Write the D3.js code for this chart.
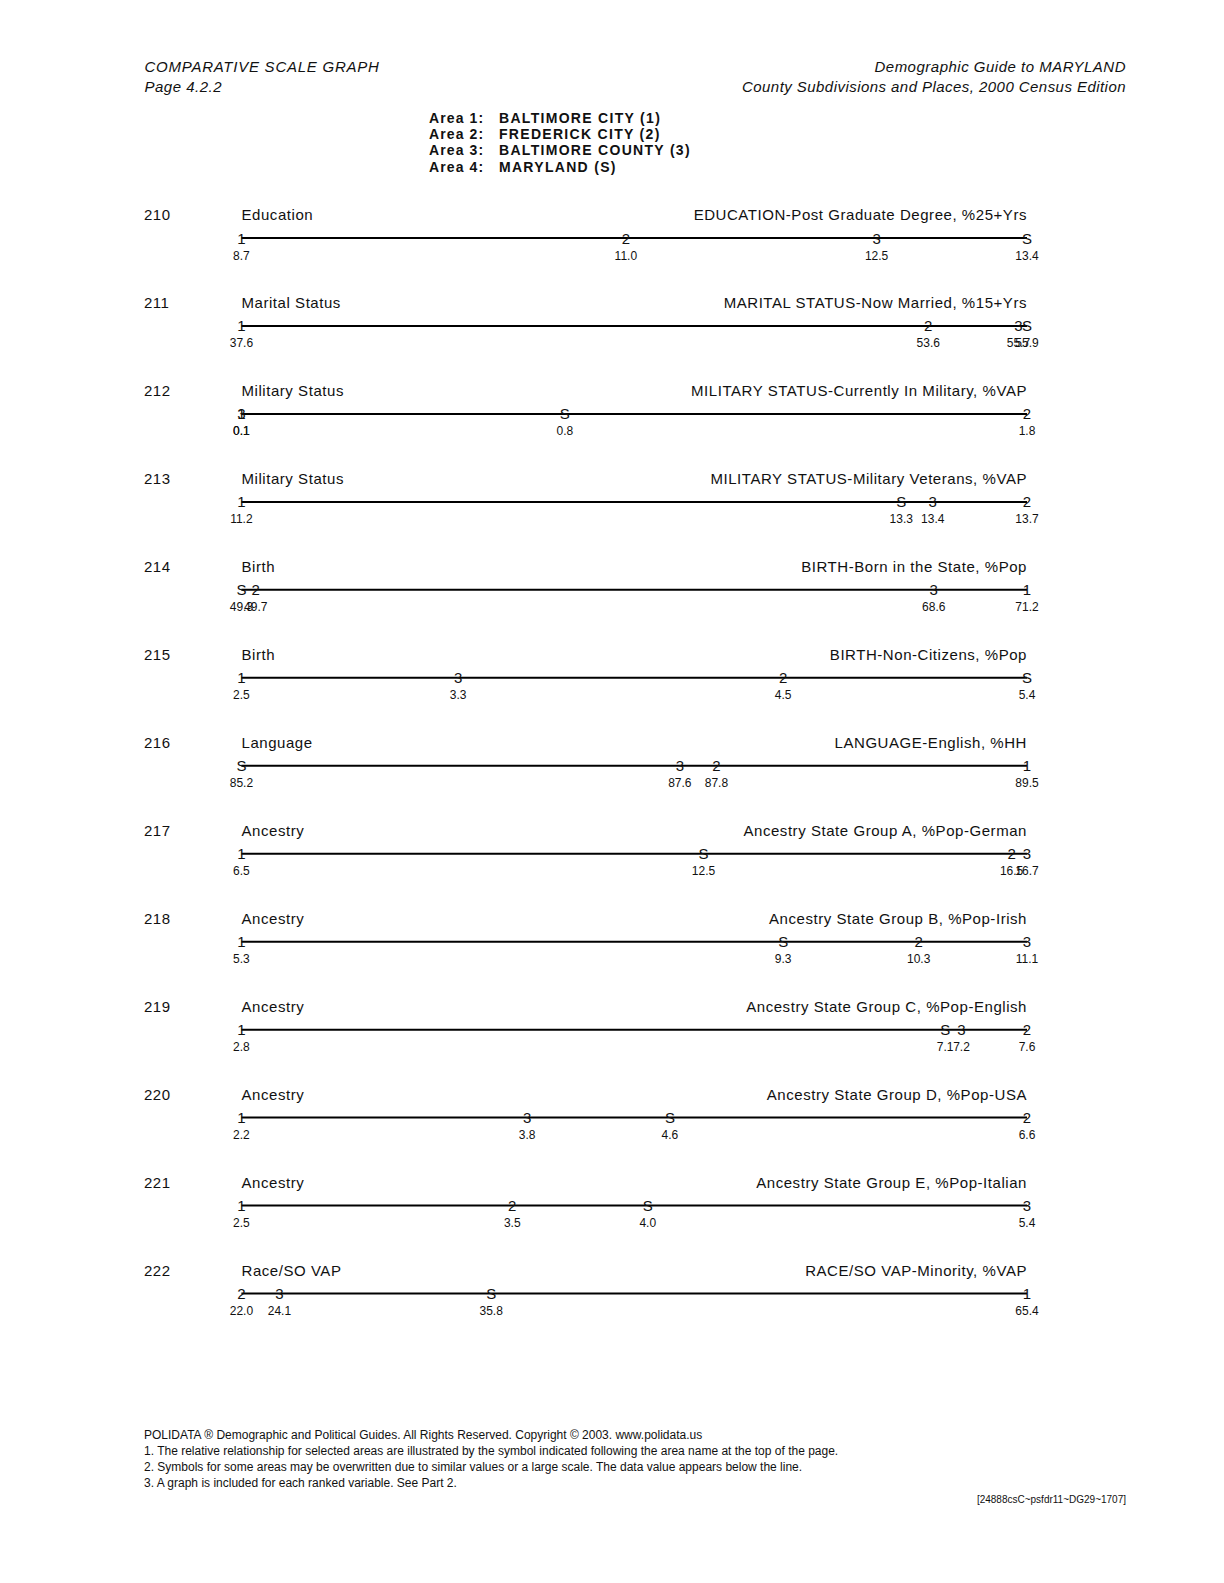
<!DOCTYPE html>
<html><head><meta charset="utf-8">
<script src="https://cdn.jsdelivr.net/npm/d3@7"></script>
<style>
html,body{margin:0;padding:0;background:#fff;}
svg text{font-family:"Liberation Sans",Arial,Helvetica,sans-serif;fill:#111;}
</style>
</head><body>
<svg id="chart" width="1224" height="1583"></svg>
<script>
const rowIds = [210,211,212,213,214,215,216,217,218,219,220,221,222];
const categories = ["Education","Marital Status","Military Status","Military Status","Birth","Birth","Language","Ancestry","Ancestry","Ancestry","Ancestry","Ancestry","Race/SO VAP"];
const titles = [
  "EDUCATION-Post Graduate Degree, %25+Yrs",
  "MARITAL STATUS-Now Married, %15+Yrs",
  "MILITARY STATUS-Currently In Military, %VAP",
  "MILITARY STATUS-Military Veterans, %VAP",
  "BIRTH-Born in the State, %Pop",
  "BIRTH-Non-Citizens, %Pop",
  "LANGUAGE-English, %HH",
  "Ancestry State Group A, %Pop-German",
  "Ancestry State Group B, %Pop-Irish",
  "Ancestry State Group C, %Pop-English",
  "Ancestry State Group D, %Pop-USA",
  "Ancestry State Group E, %Pop-Italian",
  "RACE/SO VAP-Minority, %VAP"
];
const symbols = ["1","2","3","S"];
const area1 = [8.7, 37.6, 0.1, 11.2, 71.2, 2.5, 89.5, 6.5, 5.3, 2.8, 2.2, 2.5, 65.4];
const area2 = [11.0, 53.6, 1.8, 13.7, 49.7, 4.5, 87.8, 16.5, 10.3, 7.6, 6.6, 3.5, 22.0];
const area3 = [12.5, 55.7, 0.1, 13.4, 68.6, 3.3, 87.6, 16.7, 11.1, 7.2, 3.8, 5.4, 24.1];
const areaS = [13.4, 55.9, 0.8, 13.3, 49.3, 5.4, 85.2, 12.5, 9.3, 7.1, 4.6, 4.0, 35.8];
const legendLabels = ["Area 1:","Area 2:","Area 3:","Area 4:"];
const legendNames = ["BALTIMORE CITY (1)","FREDERICK CITY (2)","BALTIMORE COUNTY (3)","MARYLAND (S)"];
const footerLines = [
  "POLIDATA \u00AE Demographic and Political Guides. All Rights Reserved. Copyright \u00A9 2003. www.polidata.us",
  "1. The relative relationship for selected areas are illustrated by the symbol indicated following the area name at the top of the page.",
  "2. Symbols for some areas may be overwritten due to similar values or a large scale. The data value appears below the line.",
  "3. A graph is included for each ranked variable. See Part 2."
];

const svg = d3.select("#chart");
const series = [area1, area2, area3, areaS];

// header
const hdr = (x,y,anchor,t,ls)=>svg.append("text").attr("x",x).attr("y",y).attr("text-anchor",anchor)
  .style("font-size","15px").style("font-style","italic").style("letter-spacing",ls+"px").text(t);
hdr(144.5,72,"start","COMPARATIVE SCALE GRAPH",0.75);
hdr(144.5,92,"start","Page 4.2.2",0.5);
hdr(1126,72,"end","Demographic Guide to MARYLAND",0.5);
hdr(1126,92,"end","County Subdivisions and Places, 2000 Census Edition",0.45);

// legend
legendLabels.forEach((l,i)=>{
  svg.append("text").attr("x",429).attr("y",123+i*16.2).style("font-size","14px").style("font-weight","bold").style("letter-spacing","1.1px").text(l);
  svg.append("text").attr("x",499).attr("y",123+i*16.2).style("font-size","14px").style("font-weight","bold").style("letter-spacing","1.3px").text(legendNames[i]);
});

const rowY = d3.scaleLinear().domain([0,12]).range([238,1293.5]);
const x0 = 241.4, x1 = 1027;

rowIds.forEach((id,i)=>{
  const y = rowY(i);
  const vals = series.map(s=>s[i]);
  const x = d3.scaleLinear().domain(d3.extent(vals)).range([x0,x1]);
  const g = svg.append("g");
  g.append("text").attr("x",144).attr("y",y-18).style("font-size","15px").style("letter-spacing","0.5px").text(id);
  g.append("text").attr("x",241.5).attr("y",y-18).style("font-size","15px").style("letter-spacing","0.55px").text(categories[i]);
  g.append("text").attr("x",1027).attr("y",y-18).attr("text-anchor","end").style("font-size","15px").style("letter-spacing","0.55px").text(titles[i]);
  g.append("line").attr("x1",x.range()[0]).attr("x2",x.range()[1]).attr("y1",y).attr("y2",y).attr("stroke","#000").attr("stroke-width",2);
  vals.forEach((v,k)=>{
    g.append("text").attr("x",x(v)).attr("y",y+5.5).attr("text-anchor","middle").style("font-size","15px").text(symbols[k]);
    g.append("text").attr("x",x(v)).attr("y",y+21.5).attr("text-anchor","middle").style("font-size","12px").text(v.toFixed(1));
  });
});

// footer
footerLines.forEach((t,i)=>{
  svg.append("text").attr("x",144).attr("y",1439+i*16).style("font-size","12px").text(t);
});
svg.append("text").attr("x",1126).attr("y",1503).attr("text-anchor","end").style("font-size","10px").text("[24888csC~psfdr11~DG29~1707]");
</script>
</body></html>
